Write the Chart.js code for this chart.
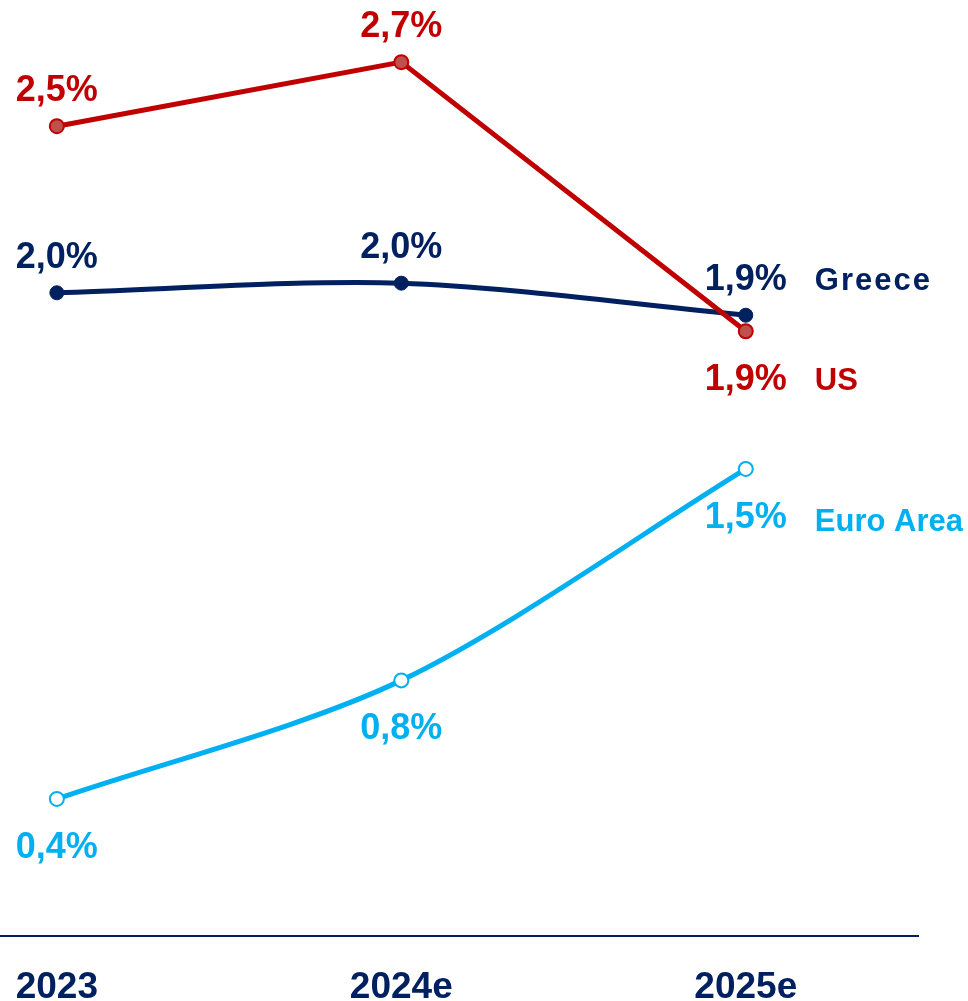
<!DOCTYPE html>
<html>
<head>
<meta charset="utf-8">
<script src="https://cdn.jsdelivr.net/npm/chart.js@4.4.1/dist/chart.umd.min.js"></script>
<style>
  html, body { margin: 0; padding: 0; background: #fff; }
  #wrap { width: 968px; height: 1001px; position: relative; }
</style>
</head>
<body>
<div id="wrap"><canvas id="chart"></canvas></div>
<script>
// data
const categories = ['2023', '2024e', '2025e'];
const usValues = [2.5, 2.7, 1.86];
const greeceValues = [1.98, 2.01, 1.91];
const euroValues = [0.4, 0.77, 1.43];
const usLabels = ['2,5%', '2,7%', '1,9%'];
const greeceLabels = ['2,0%', '2,0%', '1,9%'];
const euroLabels = ['0,4%', '0,8%', '1,5%'];
const seriesNames = ['US', 'Greece', 'Euro Area'];

const RED = '#C00000';
const NAVY = '#002060';
const BLUE = '#00B0F0';

const toPoints = vals => vals.map((v, i) => ({ x: i, y: v }));

// etiquetas de datos, nombre de serie y años bajo el eje
const labelPlugin = {
  id: 'valueLabels',
  afterDatasetsDraw(chart) {
    const ctx = chart.ctx;
    ctx.save();
    ctx.textBaseline = 'alphabetic';
    chart.data.datasets.forEach((ds, di) => {
      const meta = chart.getDatasetMeta(di);
      ctx.fillStyle = ds.borderColor;
      ctx.font = 'bold 36px "Liberation Sans"';
      ctx.textAlign = 'center';
      let lastY = 0;
      meta.data.forEach((pt, i) => {
        const off = ds.labelPos[i] === 'above' ? -25 : 59;
        ctx.fillText(ds.valueLabels[i], pt.x, pt.y + off);
        lastY = pt.y + off;
      });
      const last = meta.data[meta.data.length - 1];
      ctx.textAlign = 'left';
      ctx.font = 'bold 31px "Liberation Sans"';
      ctx.letterSpacing = ds.nameSpacing;
      ctx.fillText(ds.label, last.x + 69, lastY + (ds.label === 'Euro Area' ? 3 : 0));
      ctx.letterSpacing = '0px';
    });
    // años
    const xs = chart.scales.x;
    ctx.fillStyle = NAVY;
    ctx.font = 'bold 37px "Liberation Sans"';
    ctx.textAlign = 'center';
    categories.forEach((c, i) => {
      ctx.fillText(c, xs.getPixelForValue(i), chart.chartArea.bottom + 62);
    });
    ctx.restore();
  }
};

const ctx = document.getElementById('chart').getContext('2d');
new Chart(ctx, {
  type: 'line',
  data: {
    datasets: [
      {
        label: seriesNames[0],
        data: toPoints(usValues),
        valueLabels: usLabels,
        labelPos: ['above', 'above', 'below'],
        nameSpacing: '0px',
        borderColor: RED,
        backgroundColor: '#C0504D',
        pointBorderColor: RED,
        pointBackgroundColor: '#C0504D',
        borderWidth: 5,
        pointRadius: 7,
        pointBorderWidth: 2,
        tension: 0
      },
      {
        label: seriesNames[1],
        data: toPoints(greeceValues),
        valueLabels: greeceLabels,
        labelPos: ['above', 'above', 'above'],
        nameSpacing: '2px',
        borderColor: NAVY,
        backgroundColor: NAVY,
        pointBackgroundColor: NAVY,
        pointBorderColor: NAVY,
        borderWidth: 5,
        pointRadius: 7,
        pointBorderWidth: 1,
        tension: 0.3
      },
      {
        label: seriesNames[2],
        data: toPoints(euroValues),
        valueLabels: euroLabels,
        labelPos: ['below', 'below', 'below'],
        nameSpacing: '0px',
        borderColor: BLUE,
        backgroundColor: '#fff',
        pointBackgroundColor: '#fff',
        pointBorderColor: BLUE,
        borderWidth: 5,
        pointRadius: 7,
        pointBorderWidth: 2,
        tension: 0.3
      }
    ]
  },
  options: {
    responsive: true,
    maintainAspectRatio: false,
    animation: false,
    layout: { autoPadding: false, padding: { left: 0, right: 50, top: 0, bottom: 65 } },
    plugins: {
      legend: { display: false },
      tooltip: { enabled: false }
    },
    scales: {
      x: {
        type: 'linear',
        min: -0.165,
        max: 2.5,
        grid: { display: false, drawTicks: false },
        border: { display: true, color: NAVY, width: 2 },
        ticks: { display: false }
      },
      y: {
        display: false,
        min: -0.028,
        max: 2.894
      }
    }
  },
  plugins: [labelPlugin]
});
</script>
</body>
</html>
